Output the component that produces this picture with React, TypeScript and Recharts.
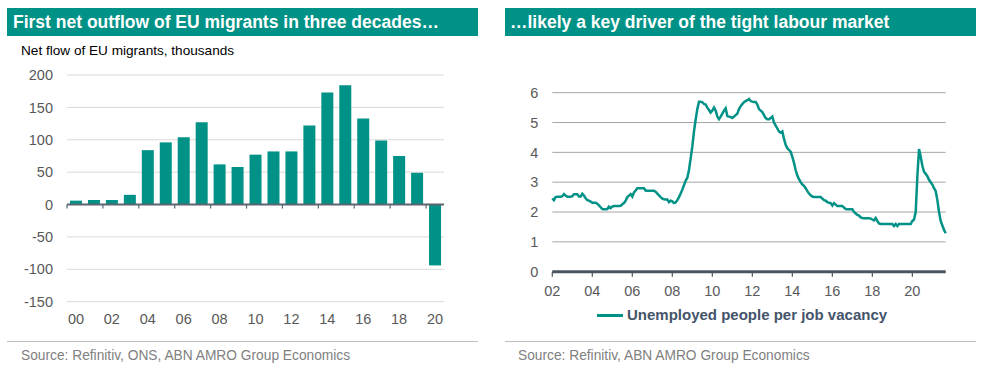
import React from "react";
import {
  BarChart,
  Bar,
  LineChart,
  Line,
  XAxis,
  YAxis,
  CartesianGrid,
  ReferenceLine,
} from "recharts";

const TEAL = "#009286";
const FONT = "'Liberation Sans', Arial, sans-serif";

// Left: net flow of EU migrants (thousands), 2000-2020
const flowYears = [
  "00", "01", "02", "03", "04", "05", "06", "07", "08", "09", "10",
  "11", "12", "13", "14", "15", "16", "17", "18", "19", "20",
];
const euNetFlow = [
  6, 7, 7, 15, 84, 96, 104, 127, 62, 58, 77,
  82, 82, 122, 173, 184, 133, 99, 75, 49, -94,
];
const flowTicks = [-150, -100, -50, 0, 50, 100, 150, 200];

// Right: unemployed people per job vacancy, monthly from Jan 2002
const ratioStartYear = 2002;
const vacancyRatio = [
  2.46, 2.40, 2.50, 2.51, 2.51, 2.51, 2.53, 2.60, 2.55, 2.51, 2.51, 2.51, // 2002
  2.53, 2.60, 2.60, 2.60, 2.52, 2.52, 2.61, 2.55, 2.46, 2.40, 2.38, 2.35, // 2003
  2.31, 2.31, 2.31, 2.28, 2.22, 2.16, 2.10, 2.09, 2.09, 2.10, 2.18, 2.13, // 2004
  2.18, 2.20, 2.20, 2.20, 2.20, 2.21, 2.26, 2.30, 2.38, 2.50, 2.55, 2.60, // 2005
  2.52, 2.66, 2.72, 2.80, 2.80, 2.80, 2.80, 2.80, 2.72, 2.71, 2.71, 2.71, // 2006
  2.71, 2.71, 2.68, 2.62, 2.56, 2.50, 2.45, 2.43, 2.42, 2.42, 2.33, 2.38, // 2007
  2.36, 2.30, 2.32, 2.40, 2.50, 2.62, 2.75, 2.90, 3.05, 3.15, 3.41, 3.80, // 2008
  4.20, 4.70, 5.10, 5.45, 5.70, 5.70, 5.68, 5.62, 5.60, 5.50, 5.42, 5.33, // 2009
  5.40, 5.50, 5.40, 5.20, 5.11, 5.20, 5.30, 5.40, 5.48, 5.22, 5.20, 5.18, // 2010
  5.15, 5.20, 5.25, 5.30, 5.45, 5.55, 5.62, 5.68, 5.72, 5.75, 5.79, 5.72, // 2011
  5.70, 5.69, 5.69, 5.60, 5.45, 5.40, 5.35, 5.25, 5.15, 5.11, 5.11, 5.15, // 2012
  5.20, 5.00, 4.90, 4.80, 4.70, 4.66, 4.70, 4.45, 4.25, 4.14, 4.08, 4.02, // 2013
  3.85, 3.65, 3.40, 3.22, 3.10, 3.00, 2.92, 2.88, 2.80, 2.70, 2.62, 2.56, // 2014
  2.52, 2.50, 2.50, 2.50, 2.50, 2.50, 2.45, 2.40, 2.38, 2.33, 2.31, 2.30, // 2015
  2.22, 2.30, 2.25, 2.20, 2.20, 2.20, 2.20, 2.15, 2.10, 2.09, 2.09, 2.09, // 2016
  2.09, 2.00, 1.95, 1.90, 1.88, 1.82, 1.80, 1.79, 1.79, 1.79, 1.79, 1.78, // 2017
  1.75, 1.72, 1.80, 1.70, 1.62, 1.60, 1.60, 1.60, 1.60, 1.60, 1.60, 1.60, // 2018
  1.60, 1.53, 1.60, 1.53, 1.60, 1.60, 1.60, 1.60, 1.60, 1.60, 1.60, 1.60, // 2019
  1.70, 1.75, 2.00, 3.20, 4.11, 3.85, 3.55, 3.35, 3.28, 3.20, 3.08, 3.00, // 2020
  2.92, 2.80, 2.70, 2.40, 2.00, 1.70, 1.55, 1.40, 1.29, // 2021
];
const ratioYearTicks = [2002, 2004, 2006, 2008, 2010, 2012, 2014, 2016, 2018, 2020];
const ratioTicks = [0, 1, 2, 3, 4, 5, 6];

const flowData = flowYears.map((year, i) => ({ year, flow: euNetFlow[i] }));
const ratioData = vacancyRatio.map((v, i) => ({ t: ratioStartYear + i / 12, ratio: v }));

// zero line with small ticks at the left edge of every second year
function ZeroAxis(props: any) {
  const { x1, x2, y1 } = props;
  const band = (x2 - x1) / flowYears.length;
  const marks = [];
  for (let i = 0; i < flowYears.length; i += 2) {
    const x = x1 + i * band;
    marks.push(<line key={i} x1={x} x2={x} y1={y1} y2={y1 + 4} stroke="#5a6570" strokeWidth={1.2} />);
  }
  return (
    <g>
      <line x1={x1} x2={x2} y1={y1} y2={y1} stroke="#5a6570" strokeWidth={2} />
      {marks}
    </g>
  );
}

const header = (left: number): React.CSSProperties => ({
  position: "absolute",
  left,
  top: 8,
  width: 471,
  height: 28,
  background: TEAL,
  color: "#fff",
  fontWeight: 700,
  fontSize: 17.5,
  lineHeight: "28px",
  boxSizing: "border-box",
  whiteSpace: "nowrap",
});

const source: React.CSSProperties = {
  position: "absolute",
  top: 348,
  fontSize: 13.75,
  color: "#808080",
  whiteSpace: "nowrap",
};

export default function App() {
  return (
    <div
      style={{
        position: "fixed",
        left: 0,
        top: 0,
        width: 985,
        height: 369,
        background: "#fff",
        fontFamily: FONT,
        overflow: "hidden",
      }}
    >
      <div style={{ ...header(7), paddingLeft: 6 }}>First net outflow of EU migrants in three decades…</div>
      <div style={{ ...header(505), paddingLeft: 5 }}>…likely a key driver of the tight labour market</div>

      <div style={{ position: "absolute", left: 21, top: 43, fontSize: 13.6, color: "#000", whiteSpace: "nowrap" }}>
        Net flow of EU migrants, thousands
      </div>

      <div style={{ position: "absolute", left: 0, top: 0 }}>
        <BarChart
          width={490}
          height={340}
          data={flowData}
          margin={{ top: 75, right: 46, bottom: 0, left: 0 }}
        >
          <CartesianGrid vertical={false} stroke="#d9d9d9" />
          <XAxis
            dataKey="year"
            interval={1}
            height={38.3}
            axisLine={false}
            tickLine={false}
            tickMargin={6}
            tick={{ fontSize: 14.5, fill: "#595959", fontFamily: FONT }}
          />
          <YAxis
            width={67}
            domain={[-150, 200]}
            ticks={flowTicks}
            axisLine={false}
            tickLine={false}
            tickMargin={8}
            tick={{ fontSize: 14.5, fill: "#595959", fontFamily: FONT }}
          />
          <Bar dataKey="flow" fill={TEAL} barSize={12} isAnimationActive={false} />
          <ReferenceLine y={0} shape={ZeroAxis} />
        </BarChart>
      </div>

      <div style={{ position: "absolute", left: 495, top: 0 }}>
        <LineChart
          width={490}
          height={340}
          data={ratioData}
          margin={{ top: 92.7, right: 39.3, bottom: 0, left: 0 }}
        >
          <CartesianGrid vertical={false} stroke="#a6a6a6" />
          <XAxis
            dataKey="t"
            type="number"
            domain={["dataMin", "dataMax"]}
            ticks={ratioYearTicks}
            tickFormatter={(v) => String(Math.round(v) % 100).padStart(2, "0")}
            height={68.3}
            axisLine={{ stroke: "#4a5561", strokeWidth: 3 }}
            tickLine={{ stroke: "#4a5561", strokeWidth: 1.2 }}
            tickSize={5}
            tickMargin={9}
            tick={{ fontSize: 14.5, fill: "#595959", fontFamily: FONT }}
          />
          <YAxis
            width={57.3}
            domain={[0, 6]}
            ticks={ratioTicks}
            axisLine={false}
            tickLine={false}
            tickMargin={8}
            tick={{ fontSize: 14.5, fill: "#595959", fontFamily: FONT }}
          />
          <Line
            dataKey="ratio"
            type="linear"
            stroke={TEAL}
            strokeWidth={2.5}
            dot={false}
            isAnimationActive={false}
          />
        </LineChart>
      </div>

      {/* legend */}
      <div style={{ position: "absolute", left: 597, top: 314, width: 26, height: 3, background: TEAL }} />
      <div
        style={{
          position: "absolute",
          left: 627,
          top: 306,
          fontSize: 15,
          fontWeight: 700,
          color: "#44546a",
          whiteSpace: "nowrap",
        }}
      >
        Unemployed people per job vacancy
      </div>

      <div style={{ position: "absolute", left: 7, top: 341, width: 471, height: 1, background: "#bfbfbf" }} />
      <div style={{ position: "absolute", left: 505, top: 341, width: 471, height: 1, background: "#bfbfbf" }} />
      <div style={{ ...source, left: 21 }}>Source: Refinitiv, ONS, ABN AMRO Group Economics</div>
      <div style={{ ...source, left: 518 }}>Source: Refinitiv, ABN AMRO Group Economics</div>
    </div>
  );
}
